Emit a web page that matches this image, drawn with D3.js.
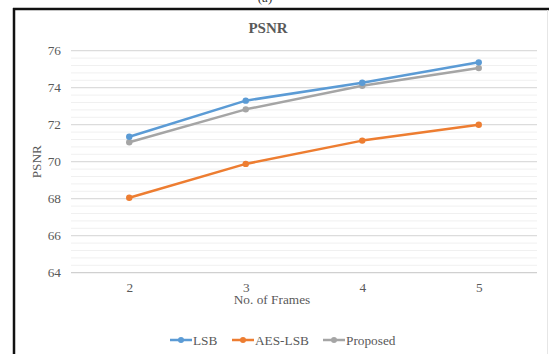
<!DOCTYPE html>
<html><head><meta charset="utf-8">
<script src="https://cdn.jsdelivr.net/npm/d3@7"></script>
<style>body{margin:0;background:#fff;}svg{display:block;}</style>
</head><body>
<script>
const categories = [2, 3, 4, 5];
const lsb = [71.35, 73.3, 74.27, 75.37];
const aesLsb = [68.05, 69.88, 71.14, 72.0];
const proposed = [71.05, 72.83, 74.1, 75.06];
const seriesNames = ["LSB", "AES-LSB", "Proposed"];
const yTicks = [64, 66, 68, 70, 72, 74, 76];
const colors = ["#5B9BD5", "#ED7D31", "#A5A5A5"];

const W = 549, H = 354;
const svg = d3.select("body").append("svg").attr("width", W).attr("height", H);
const font = "'Liberation Serif','Times New Roman',serif";
const txt = "#595959";

// caption fragment above frame
svg.append("text").attr("x", 265).attr("y", 2).attr("text-anchor", "middle")
  .attr("font-family", font).attr("font-size", 13).attr("fill", "#333").text("(a)");

// frame
svg.append("rect").attr("x", 9).attr("y", 9).attr("width", W - 9).attr("height", H).attr("fill", "#fff");
svg.append("line").attr("x1", 14).attr("x2", 14).attr("y1", 8).attr("y2", H).attr("stroke", "#111").attr("stroke-width", 2.5);
svg.append("line").attr("x1", 13).attr("x2", W).attr("y1", 9).attr("y2", 9).attr("stroke", "#111").attr("stroke-width", 2.5);
svg.append("line").attr("x1", 547.5).attr("x2", 547.5).attr("y1", 10).attr("y2", H).attr("stroke", "#e6e6e6").attr("stroke-width", 1);

const plot = {left: 71, right: 537, top: 50.7, bottom: 272.7};
const x = d3.scalePoint().domain(categories).range([plot.left, plot.right]).padding(0.5);
const y = d3.scaleLinear().domain([64, 76]).range([plot.bottom, plot.top]);

// minor grid
const minor = d3.range(64, 76.001, 0.4).filter(v => Math.abs(v / 2 - Math.round(v / 2)) > 0.01);
svg.append("g").selectAll("line").data(minor).join("line")
  .attr("x1", plot.left).attr("x2", plot.right)
  .attr("y1", d => y(d)).attr("y2", d => y(d))
  .attr("stroke", "#f0f0f0").attr("stroke-width", 1);
// major grid
svg.append("g").selectAll("line").data(yTicks).join("line")
  .attr("x1", plot.left).attr("x2", plot.right)
  .attr("y1", d => y(d)).attr("y2", d => y(d))
  .attr("stroke", d => d === 64 ? "#d0d0d0" : "#dcdcdc").attr("stroke-width", 1.2);

// y axis labels
const yAxis = d3.axisLeft(y).tickValues(yTicks).tickSize(0).tickPadding(10);
const gy = svg.append("g").attr("transform", `translate(${plot.left},0)`).call(yAxis);
gy.select(".domain").remove();
gy.selectAll("text").attr("font-family", font).attr("font-size", 13.3).attr("fill", txt);

// x axis labels
const xAxis = d3.axisBottom(x).tickSize(0).tickPadding(10);
const gx = svg.append("g").attr("transform", `translate(0,${plot.bottom})`).call(xAxis);
gx.select(".domain").remove();
gx.selectAll("text").attr("font-family", font).attr("font-size", 13.3).attr("fill", txt);

// titles
svg.append("text").attr("x", 268).attr("y", 33).attr("text-anchor", "middle")
  .attr("font-family", font).attr("font-size", 15).attr("font-weight", "bold").attr("fill", txt).text("PSNR");
svg.append("text").attr("x", 272).attr("y", 304).attr("text-anchor", "middle")
  .attr("font-family", font).attr("font-size", 13.3).attr("fill", txt).text("No. of Frames");
svg.append("text").attr("transform", `translate(41,${(plot.top + plot.bottom) / 2}) rotate(-90)`)
  .attr("text-anchor", "middle").attr("font-family", font).attr("font-size", 13.3).attr("fill", txt).text("PSNR");

// series
const data = [lsb, aesLsb, proposed];
const line = d3.line().x((d, i) => x(categories[i])).y(d => y(d));
[2, 1, 0].forEach(si => {
  const g = svg.append("g");
  g.append("path").datum(data[si]).attr("d", line).attr("fill", "none")
    .attr("stroke", colors[si]).attr("stroke-width", 2.5).attr("stroke-linejoin", "round").attr("stroke-linecap", "round");
  g.selectAll("circle").data(data[si]).join("circle")
    .attr("cx", (d, i) => x(categories[i])).attr("cy", d => y(d)).attr("r", 3.2).attr("fill", colors[si]);
});

// legend
const legX = [170, 232, 323];
const legY = 340;
seriesNames.forEach((name, i) => {
  const g = svg.append("g");
  g.append("line").attr("x1", legX[i]).attr("x2", legX[i] + 22).attr("y1", legY).attr("y2", legY)
    .attr("stroke", colors[i]).attr("stroke-width", 2.5);
  g.append("circle").attr("cx", legX[i] + 11).attr("cy", legY).attr("r", 3).attr("fill", colors[i]);
  g.append("text").attr("x", legX[i] + 23).attr("y", legY + 4.5).attr("font-family", font)
    .attr("font-size", 13.3).attr("fill", txt).text(name);
});
</script>
</body></html>
